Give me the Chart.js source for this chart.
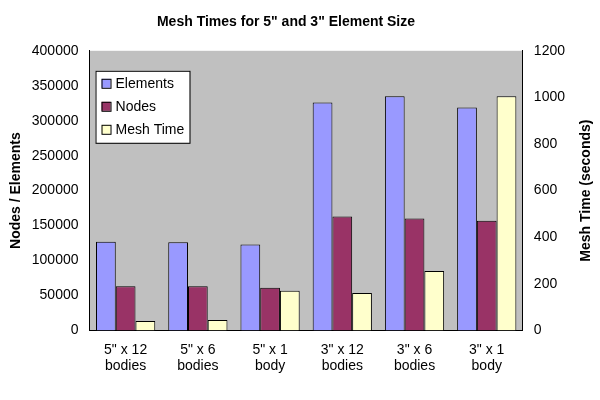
<!DOCTYPE html>
<html>
<head>
<script src="https://cdn.jsdelivr.net/npm/chart.js@4/dist/chart.umd.min.js"></script>
<style>
  body { margin: 0; background: #fff; }
  #wrap { width: 600px; height: 400px; }
</style>
</head>
<body>
<div id="wrap"><canvas id="myChart"></canvas></div>
<script>
const categories = [["5\" x 12", "bodies"], ["5\" x 6", "bodies"], ["5\" x 1", "body"],
                    ["3\" x 12", "bodies"], ["3\" x 6", "bodies"], ["3\" x 1", "body"]];
const elements = [127000, 126000, 123000, 326000, 335000, 319000];
const nodes = [63000, 63000, 61000, 163000, 160000, 157000];
const meshTime = [40, 45, 170, 160, 255, 1005];

const FONT = "'Liberation Sans', Arial, sans-serif";
Chart.defaults.font.family = FONT;
Chart.defaults.font.size = 14;
Chart.defaults.color = "#000";

// gray plot area
const plotBg = {
  id: "plotBg",
  beforeDraw(chart) {
    const { ctx, chartArea: a } = chart;
    ctx.save();
    ctx.fillStyle = "#c0c0c0";
    ctx.fillRect(a.left, a.top, a.right - a.left, a.bottom - a.top);
    ctx.restore();
  },
};

// legend box inside the plot + right axis title reading upward
const innerLegend = {
  id: "innerLegend",
  afterDraw(chart) {
    const { ctx, chartArea: a } = chart;
    const x = a.left + 6, y = a.top + 20, w = 94, h = 72;
    ctx.save();
    ctx.fillStyle = "#fff";
    ctx.strokeStyle = "#000";
    ctx.lineWidth = 1;
    ctx.fillRect(x, y, w, h);
    ctx.strokeRect(x + 0.5, y + 0.5, w, h);
    ctx.font = "14px " + FONT;
    ctx.textBaseline = "middle";
    chart.data.datasets.forEach((ds, i) => {
      const yy = y + 13 + i * 23;
      ctx.fillStyle = ds.backgroundColor;
      ctx.fillRect(x + 6, yy - 5, 9, 9);
      ctx.strokeRect(x + 6.5, yy - 4.5, 9, 9);
      ctx.fillStyle = "#000";
      ctx.fillText(ds.label, x + 20, yy);
    });
    ctx.translate(chart.width - 14, (a.top + a.bottom) / 2);
    ctx.rotate(-Math.PI / 2);
    ctx.textAlign = "center";
    ctx.font = "bold 14px " + FONT;
    ctx.fillText("Mesh Time (seconds)", 0, 0);
    ctx.restore();
  },
};

new Chart(document.getElementById("myChart"), {
  type: "bar",
  data: {
    labels: categories,
    datasets: [
      { label: "Elements", data: elements, backgroundColor: "#9999ff", borderColor: "#000", borderWidth: 1, yAxisID: "y" },
      { label: "Nodes", data: nodes, backgroundColor: "#993366", borderColor: "#000", borderWidth: 1, yAxisID: "y" },
      { label: "Mesh Time", data: meshTime, backgroundColor: "#ffffcc", borderColor: "#000", borderWidth: 1, yAxisID: "y1" },
    ],
  },
  options: {
    responsive: true,
    maintainAspectRatio: false,
    animation: false,
    layout: { padding: { left: 4, right: 32, top: 2, bottom: 22 } },
    datasets: { bar: { categoryPercentage: 0.82, barPercentage: 1.0 } },
    plugins: {
      legend: { display: false },
      tooltip: { enabled: false },
      title: {
        display: true,
        text: "Mesh Times for 5\" and 3\" Element Size",
        font: { size: 14, weight: "bold" },
        padding: { top: 12, bottom: 20 },
      },
    },
    scales: {
      x: {
        grid: { display: false },
        border: { color: "#000" },
        ticks: { maxRotation: 0 },
      },
      y: {
        position: "left",
        min: 0, max: 400000,
        ticks: { stepSize: 50000, callback: v => String(v) },
        grid: { display: false },
        border: { color: "#000" },
        title: { display: true, text: "Nodes / Elements", font: { size: 14, weight: "bold" } },
      },
      y1: {
        position: "right",
        min: 0, max: 1200,
        ticks: { stepSize: 200, callback: v => String(v) },
        grid: { display: false },
        border: { color: "#000" },
      },
    },
  },
  plugins: [plotBg, innerLegend],
});
</script>
</body>
</html>
